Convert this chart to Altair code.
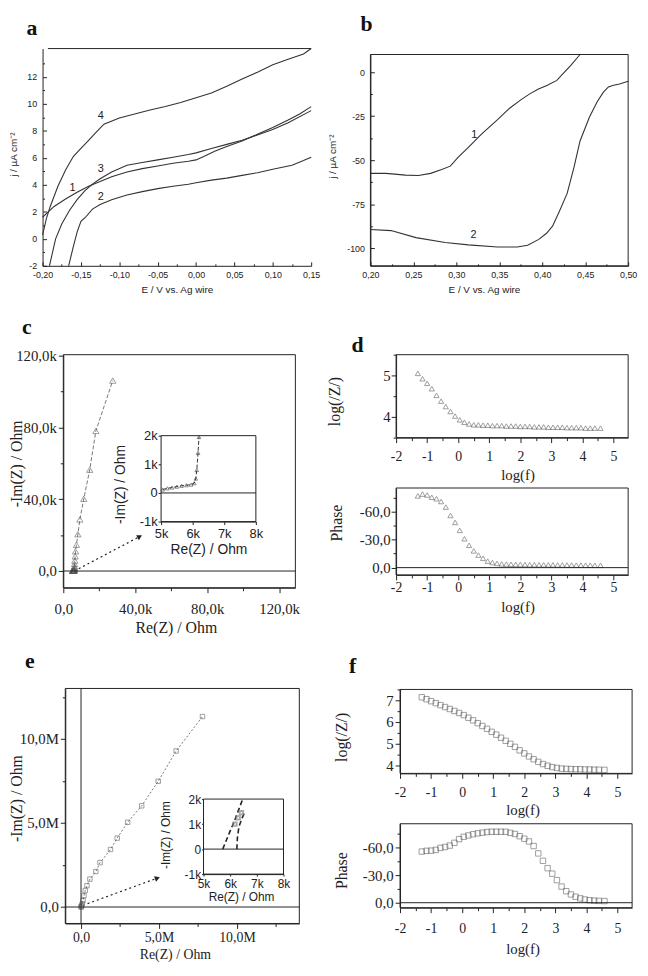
import altair as alt
import pandas as pd

W, H = 640, 960
INK = "#222222"
GREY = "#555555"
SANS = "Liberation Sans"
SERIF = "Liberation Serif"

# ---------------- data ----------------
# panel a : j (uA cm-2) vs E (V)
a1_E = [-0.200, -0.185, -0.170, -0.155, -0.140, -0.125, -0.110, -0.090, -0.070, -0.050, -0.030,
        -0.010, 0.000, 0.010, 0.025, 0.040, 0.060, 0.080, 0.100, 0.120, 0.135, 0.150]
a1_j = [1.6, 2.4, 2.95, 3.45, 3.9, 4.25, 4.6, 4.95, 5.2, 5.4, 5.6,
        5.75, 5.85, 6.1, 6.5, 6.85, 7.25, 7.75, 8.25, 8.8, 9.25, 9.8]
a2_E = [-0.166, -0.160, -0.155, -0.150, -0.144, -0.135, -0.125, -0.110, -0.090, -0.070, -0.050,
        -0.030, -0.010, 0.000, 0.020, 0.040, 0.060, 0.080, 0.100, 0.125, 0.140, 0.150]
a2_j = [-2.0, -0.6, 0.5, 1.3, 1.6, 2.2, 2.55, 2.9, 3.25, 3.5, 3.72,
        3.9, 4.05, 4.15, 4.35, 4.5, 4.7, 4.9, 5.15, 5.45, 5.8, 6.05]
a3_E = [-0.191, -0.183, -0.175, -0.165, -0.155, -0.145, -0.135, -0.125, -0.110, -0.090, -0.070,
        -0.050, -0.030, -0.010, 0.000, 0.020, 0.040, 0.060, 0.080, 0.100, 0.120, 0.150]
a3_j = [-2.0, 0.0, 1.1, 2.1, 2.9, 3.55, 4.05, 4.45, 4.95, 5.45, 5.65,
        5.85, 6.05, 6.25, 6.37, 6.7, 7.0, 7.3, 7.7, 8.1, 8.6, 9.5]
a4_E = [-0.200, -0.195, -0.190, -0.180, -0.170, -0.160, -0.150, -0.140, -0.130, -0.120, -0.100, -0.080,
        -0.060, -0.040, -0.020, 0.000, 0.020, 0.040, 0.060, 0.080, 0.100, 0.120, 0.140, 0.150]
a4_j = [0.3, 1.5, 2.4, 3.9, 5.1, 6.1, 6.7, 7.3, 7.9, 8.5, 8.95, 9.25,
        9.55, 9.8, 10.1, 10.45, 10.8, 11.3, 11.85, 12.35, 12.9, 13.3, 13.7, 14.1]
a_lab = ["4", "3", "1", "2"]
a_lab_E = [-0.124, -0.124, -0.161, -0.124]
a_lab_j = [9.1, 5.2, 3.8, 3.07]

# panel b
b1_E = [0.200, 0.218, 0.241, 0.256, 0.270, 0.283, 0.293, 0.302, 0.314, 0.329, 0.348, 0.362,
        0.375, 0.385, 0.395, 0.406, 0.417, 0.425, 0.433, 0.444]
b1_j = [-57.5, -57.5, -58.5, -58.7, -57.5, -55.3, -53.4, -48.4, -42.8, -35.4, -27.0, -20.5,
        -15.8, -12.5, -9.8, -7.5, -4.7, -0.5, 3.7, 10.0]
b2_E = [0.200, 0.224, 0.253, 0.287, 0.314, 0.348, 0.371, 0.383, 0.396, 0.405, 0.412, 0.420,
        0.429, 0.437, 0.444, 0.455, 0.464, 0.471, 0.477, 0.483, 0.490, 0.500]
b2_j = [-89.4, -90.0, -94.0, -96.8, -98.1, -99.3, -99.3, -98.3, -95.0, -91.5, -87.5, -79.0,
        -68.9, -54.0, -39.1, -25.5, -16.8, -11.5, -8.4, -7.5, -6.8, -5.2]
b_lab = ["1", "2"]
b_lab_E = [0.321, 0.320]
b_lab_j = [-36.0, -92.6]

# panel c (Nyquist, Ohm)
c_re = [5050, 5200, 5350, 5500, 5650, 5800, 5950, 6050, 6100, 6130, 6170, 6200, 6220, 6250,
        6400, 6600, 6800, 7300, 8100, 9200, 11400, 14700, 18100, 27500]
c_im = [120, 160, 190, 220, 250, 270, 290, 340, 500, 800, 1400, 1950, 2600, 4000,
        5800, 8200, 11000, 14600, 20500, 28700, 40200, 56400, 78000, 106000]
c_arrow_re = [8600, 42500]
c_arrow_im = [1300, 19200]

# panel d / f (Bode)
logf = [-1.30, -1.15, -1.00, -0.85, -0.70, -0.55, -0.40, -0.25, -0.10, 0.05,
        0.20, 0.35, 0.50, 0.65, 0.80, 0.95, 1.10, 1.25, 1.40, 1.55,
        1.70, 1.85, 2.00, 2.15, 2.30, 2.45, 2.60, 2.75, 2.90, 3.05,
        3.20, 3.35, 3.50, 3.65, 3.80, 3.95, 4.10, 4.25, 4.40, 4.58]
d_logz = [5.05, 4.92, 4.81, 4.68, 4.52, 4.38, 4.25, 4.13, 4.02, 3.93,
          3.87, 3.83, 3.81, 3.81, 3.80, 3.80, 3.79, 3.79, 3.79, 3.78,
          3.78, 3.78, 3.77, 3.77, 3.77, 3.76, 3.76, 3.76, 3.75, 3.75,
          3.75, 3.75, 3.74, 3.74, 3.74, 3.74, 3.73, 3.73, 3.73, 3.73]
d_phase = [-77, -79, -78, -75.5, -74, -71, -65, -56, -48.5, -40,
           -31, -24, -18, -13.5, -10, -7, -5.5, -4.5, -4, -3.8,
           -3.6, -3.5, -3.4, -3.3, -3.2, -3.2, -3.1, -3.1, -3.0, -3.0,
           -2.9, -2.9, -2.8, -2.8, -2.7, -2.7, -2.6, -2.6, -2.5, -2.5]
f_logz = [7.14, 7.05, 6.96, 6.87, 6.78, 6.69, 6.60, 6.51, 6.42, 6.32,
          6.20, 6.08, 5.95, 5.82, 5.69, 5.55, 5.42, 5.28, 5.14, 5.00,
          4.86, 4.70, 4.56, 4.42, 4.29, 4.17, 4.07, 3.99, 3.93, 3.89,
          3.86, 3.85, 3.84, 3.83, 3.83, 3.82, 3.82, 3.81, 3.81, 3.80]
f_phase = [-55.5, -56.3, -56.5, -57.3, -59.5, -60.5, -62, -65, -69, -71.5,
           -73, -74.3, -75.3, -76, -76.7, -77, -77, -77, -77, -75.8,
           -74.6, -72.2, -69.5, -66.5, -61.5, -53.5, -45.5, -37.5, -31.5, -24.5,
           -17.5, -12.5, -9, -6.5, -4.7, -3.5, -2.7, -2.2, -2.0, -1.8]

# panel e (Nyquist, Ohm)
e_re = [0, 20000, 40000, 80000, 130000, 190000, 270000, 380000, 570000, 950000,
        1220000, 1890000, 2320000, 2990000, 3890000, 4950000, 6100000, 7790000]
e_im = [0, 30000, 80000, 200000, 390000, 680000, 980000, 1270000, 1660000, 2110000,
        2640000, 3420000, 4100000, 5040000, 6020000, 7480000, 9280000, 11330000]
e_arrow_re = [420000, 4900000]
e_arrow_im = [200000, 1720000]
ei_a_re = [5720, 5950, 6150, 6470]
ei_a_im = [0, 600, 1100, 2000]
ei_b_re = [6250, 6270, 6330, 6450, 6560]
ei_b_im = [0, 450, 900, 1250, 1500]
ei_pt_re = [6180, 6300, 6420]
ei_pt_im = [1000, 1250, 1450]

# ---------------- geometry (pixel placement of each plot area) ----------------
PA = dict(xd=[-0.20, 0.15], yd=[-2, 14.1], xr=[35, 307], yr=[255, 35])
PB = dict(xd=[0.20, 0.50], yd=[-110, 10], xr=[367, 628], yr=[255, 41])
PC = dict(xd=[0, 129000], yd=[-9300, 120400], xr=[56, 291], yr=[581, 345])
PCI = dict(xd=[5000, 8000], yd=[-1000, 2000], xr=[155, 251], yr=[514, 427])
PD1 = dict(xd=[-2, 5.47], yd=[3.5, 5.5], xr=[393, 628], yr=[429, 345])
PD2 = dict(xd=[-2, 5.47], yd=[-85.5, 7.8], xr=[393, 628], yr=[480, 568])
PE = dict(xd=[-1010000, 14000000], yd=[-980000, 13000000], xr=[58, 295], yr=[921, 683])
PEI = dict(xd=[5000, 8000], yd=[-1000, 2000], xr=[198, 279], yr=[871, 795])
PF1 = dict(xd=[-2, 5.47], yd=[3.64, 7.5], xr=[397, 632], yr=[769, 684])
PF2 = dict(xd=[-2, 5.47], yd=[-85.7, 5.4], xr=[397, 632], yr=[820, 905])

MINUS = "\u2212"
COMMA2 = "replace(replace(format(datum.value, '.2f'), '.', ','), '" + MINUS + "', '-')"
INT = "replace(format(datum.value, 'd'), '" + MINUS + "', '-')"
K1 = "datum.value == 0 ? '0,0' : replace(format(datum.value / 1000, '.1f'), '.', ',') + 'k'"
KINT = "datum.value == 0 ? '0' : replace(format(datum.value / 1000, 'd'), '" + MINUS + "', '-') + 'k'"
PH = "replace(replace(format(datum.value, '.1f'), '.', ','), '" + MINUS + "', '-')"
M1 = "datum.value == 0 ? '0,0' : replace(format(datum.value / 1000000, '.1f'), '.', ',') + 'M'"

ONE = alt.InlineData(values=[{}])


def xs(P):
    return alt.Scale(domain=P["xd"], range=P["xr"], nice=False, zero=False)


def ys(P):
    return alt.Scale(domain=P["yd"], range=P["yr"], nice=False, zero=False)


def axis(orient, pos, values, expr=None, title=None, font=SERIF, lsize=15, tsize=16,
         tick=5, pad=2, labels=True, domain=True, tx=None, ty=None, tfont=None, ticks=True):
    if orient in ("left", "top"):
        off = -pos
    elif orient == "bottom":
        off = pos - H
    else:
        off = pos - W
    kw = dict(orient=orient, offset=off, values=values, grid=False, domain=domain,
              domainColor=INK, domainWidth=1, ticks=ticks, tickColor=INK, tickWidth=1,
              tickSize=tick, labels=labels, labelColor=INK, labelFont=font, labelFontSize=lsize,
              labelPadding=pad, labelOverlap=False, labelFlush=False,
              titleColor=INK, titleFont=tfont or font, titleFontSize=tsize,
              titleFontWeight="normal", title=title)
    if expr:
        kw["labelExpr"] = expr
    if tx is not None:
        kw["titleX"] = tx
    if ty is not None:
        kw["titleY"] = ty
    if tx is not None or ty is not None:
        kw["titleBaseline"] = "middle"
        kw["titleAlign"] = "center"
    return alt.Axis(**kw)


def tick_axis(orient, pos, values, size):
    return axis(orient, pos, values, tick=size, labels=False, domain=False)


def frame(P, ax_x=None, ax_y=None, fill=False):
    m = alt.Chart(ONE).mark_rect(fill="white", fillOpacity=1 if fill else 0,
                                 stroke=INK, strokeWidth=1)
    return m.encode(x=alt.XDatum(P["xd"][0], axis=ax_x, scale=xs(P)), x2=alt.X2Datum(P["xd"][1]),
                    y=alt.YDatum(P["yd"][0], axis=ax_y, scale=ys(P)), y2=alt.Y2Datum(P["yd"][1]))


def hline(P, yv):
    return alt.Chart(ONE).mark_rule(color=INK, strokeWidth=1).encode(
        x=alt.XDatum(P["xd"][0], axis=None, scale=xs(P)), x2=alt.X2Datum(P["xd"][1]),
        y=alt.YDatum(yv, axis=None, scale=ys(P)))


def vline(P, xv):
    return alt.Chart(ONE).mark_rule(color=INK, strokeWidth=1).encode(
        x=alt.XDatum(xv, axis=None, scale=xs(P)),
        y=alt.YDatum(P["yd"][0], axis=None, scale=ys(P)), y2=alt.Y2Datum(P["yd"][1]))


def letter(P, ch, xv, yv):
    return alt.Chart(ONE).mark_text(text=ch, font=SERIF, fontWeight="bold", fontSize=22,
                                    color="#111111").encode(
        x=alt.XDatum(xv, axis=None, scale=xs(P)), y=alt.YDatum(yv, axis=None, scale=ys(P)))


def enc(P, xf, yf, ax_x=None, ax_y=None):
    return dict(x=alt.X(xf, axis=ax_x, scale=xs(P)), y=alt.Y(yf, axis=ax_y, scale=ys(P)))


def lay(*charts):
    return alt.layer(*charts).resolve_axis(x="independent", y="independent")


# ---------------- panel a ----------------
a_df = pd.DataFrame({
    "E": a1_E + a2_E + a3_E + a4_E,
    "j": a1_j + a2_j + a3_j + a4_j,
    "curve": ["1"] * len(a1_E) + ["2"] * len(a2_E) + ["3"] * len(a3_E) + ["4"] * len(a4_E),
})
a_lab_df = pd.DataFrame({"E": a_lab_E, "j": a_lab_j, "t": a_lab})
JT = "j / \u00b5A cm\u207b\u00b2"
ET = "E / V vs. Ag wire"

pa = lay(
    alt.Chart(a_df).mark_line(color="#333333", strokeWidth=1.1).encode(
        **enc(PA, "E:Q", "j:Q",
              axis("bottom", 255, [-0.20, -0.15, -0.10, -0.05, 0.0, 0.05, 0.10, 0.15], COMMA2, ET,
                   SANS, 9, 10, 0, 5, tx=171, ty=24, ticks=False),
              axis("left", 35, [-2, 0, 2, 4, 6, 8, 10, 12], INT, JT, SANS, 9, 10, 0, 6,
                   tx=-29, ty=142, ticks=False)),
        detail="curve:N"),
    alt.Chart(ONE).mark_rule(color=INK, strokeWidth=1).encode(
        x=alt.XDatum(-0.193, scale=xs(PA),
                     axis=tick_axis("top", 255, [-0.20, -0.15, -0.10, -0.05, 0.0, 0.05, 0.10, 0.15], 4)),
        x2=alt.X2Datum(0.15),
        y=alt.YDatum(14.1, scale=ys(PA),
                     axis=tick_axis("right", 35, [-2, 0, 2, 4, 6, 8, 10, 12], 4))),
    alt.Chart(a_lab_df).mark_text(font=SANS, fontSize=11, color=INK).encode(
        x=alt.X("E:Q", scale=xs(PA),
                axis=tick_axis("top", 255, [-0.175, -0.125, -0.075, -0.025, 0.025, 0.075, 0.125], 2)),
        y=alt.Y("j:Q", scale=ys(PA),
                axis=tick_axis("right", 35, [-1, 1, 3, 5, 7, 9, 11, 13], 2)),
        text="t:N"),
    letter(PA, "a", -0.214, 15.64),
)

# ---------------- panel b ----------------
b_df = pd.DataFrame({
    "E": b1_E + b2_E,
    "j": b1_j + b2_j,
    "curve": ["1"] * len(b1_E) + ["2"] * len(b2_E),
})
b_lab_df = pd.DataFrame({"E": b_lab_E, "j": b_lab_j, "t": b_lab})
BX = [0.20, 0.25, 0.30, 0.35, 0.40, 0.45, 0.50]
BY = [-100, -75, -50, -25, 0]
pb = lay(
    alt.Chart(b_df).mark_line(color="#333333", strokeWidth=1.1).encode(
        **enc(PB, "E:Q", "j:Q",
              axis("bottom", 255, BX, COMMA2, ET, SANS, 9, 10, 0, 5, tx=482, ty=24, ticks=False),
              axis("left", 367, BY, INT, JT, SANS, 9, 10, 0, 6, tx=-38, ty=144, ticks=False)),
        detail="curve:N"),
    frame(PB, tick_axis("top", 255, BX, 4), tick_axis("right", 367, BY, 4)),
    alt.Chart(b_lab_df).mark_text(font=SANS, fontSize=11, color=INK).encode(
        x=alt.X("E:Q", scale=xs(PB),
                axis=tick_axis("top", 255, [0.225, 0.275, 0.325, 0.375, 0.425, 0.475], 2)),
        y=alt.Y("j:Q", scale=ys(PB),
                axis=tick_axis("right", 367, [-87.5, -62.5, -37.5, -12.5], 2)),
        text="t:N"),
    letter(PB, "b", 0.1954, 27.4),
)

# ---------------- panel c ----------------
c_df = pd.DataFrame({"re": c_re, "im": c_im, "i": list(range(len(c_re)))})
c_ar = pd.DataFrame({"re": c_arrow_re, "im": c_arrow_im})
RE = "Re(Z) / Ohm"
IM = "-Im(Z) / Ohm"
pc = lay(
    alt.Chart(c_df).mark_line(color=GREY, strokeWidth=0.8, strokeDash=[4, 2]).encode(
        **enc(PC, "re:Q", "im:Q",
              axis("bottom", 581, [0, 40000, 80000, 120000], K1, RE, pad=9, tx=170, ty=40),
              axis("left", 56, [0, 40000, 80000, 120000], K1, IM, pad=2, tx=-47, ty=455)),
        order="i:Q"),
    alt.Chart(c_df).mark_point(shape="triangle-up", size=40, color=GREY, strokeWidth=0.8).encode(
        **enc(PC, "re:Q", "im:Q")),
    frame(PC,
          tick_axis("bottom", 581, [20000, 60000, 100000], 3),
          tick_axis("left", 56, [20000, 60000, 100000], 3)),
    hline(PC, 0),
    alt.Chart(c_ar).mark_line(color=INK, strokeWidth=1.2, strokeDash=[2, 3]).encode(
        **enc(PC, "re:Q", "im:Q")),
    alt.Chart(c_ar.iloc[[1]]).mark_point(shape="triangle-right", filled=True, size=35,
                                         angle=332, color=INK, opacity=1).encode(
        **enc(PC, "re:Q", "im:Q")),
    letter(PC, "c", -20310, 135790),
)

ci_df = c_df[(c_df["im"] <= 2000)]
pci = lay(
    frame(PCI, fill=True),
    hline(PCI, 0),
    alt.Chart(ci_df).mark_line(color="#333333", strokeWidth=1, strokeDash=[4, 2]).encode(
        **enc(PCI, "re:Q", "im:Q",
              axis("bottom", 514, [5000, 6000, 7000, 8000], KINT, RE, SANS, 13, 14, 3, 3,
                   tx=203, ty=28),
              axis("left", 155, [-1000, 0, 1000, 2000], KINT, IM, SANS, 13, 14, 3, 1,
                   tx=-41, ty=476)),
        order="i:Q"),
    alt.Chart(ci_df).mark_point(shape="triangle-up", size=14, color="#333333",
                                strokeWidth=0.8).encode(**enc(PCI, "re:Q", "im:Q")),
)

# ---------------- panel d ----------------
d_df = pd.DataFrame({"lf": logf, "z": d_logz, "ph": d_phase})
LF = "log(f)"
LZ = "log(/Z/)"
XMAJ = [-2, -1, 0, 1, 2, 3, 4, 5]
XMIN = [-1.5, -0.5, 0.5, 1.5, 2.5, 3.5, 4.5]
pd1 = lay(
    alt.Chart(d_df).mark_point(shape="triangle-up", size=28, color=GREY, strokeWidth=0.8).encode(
        **enc(PD1, "lf:Q", "z:Q",
              axis("bottom", 429, XMAJ, INT, LF, lsize=14, tsize=15, pad=7, tx=516, ty=37),
              axis("left", 393, [4, 5], INT, LZ, pad=1, tx=-62, ty=392))),
    frame(PD1, tick_axis("bottom", 429, XMIN, 3), tick_axis("left", 393, [3.5, 4.5, 5.5], 3)),
    letter(PD1, "d", -3.24, 5.74),
)
pd2 = lay(
    alt.Chart(d_df).mark_point(shape="triangle-up", size=28, color=GREY, strokeWidth=0.8).encode(
        **enc(PD2, "lf:Q", "ph:Q",
              axis("bottom", 568, XMAJ, INT, LF, lsize=14, tsize=15, pad=1, tx=516, ty=32),
              axis("left", 393, [-60, -30, 0], PH, "Phase", pad=1, tx=-60, ty=515))),
    frame(PD2, tick_axis("bottom", 568, XMIN, 3), tick_axis("left", 393, [-75, -45, -15], 3)),
    hline(PD2, 0),
)

# ---------------- panel e ----------------
e_df = pd.DataFrame({"re": e_re, "im": e_im, "i": list(range(len(e_re)))})
e_ar = pd.DataFrame({"re": e_arrow_re, "im": e_arrow_im})
pe = lay(
    alt.Chart(e_df).mark_line(color=GREY, strokeWidth=0.8, strokeDash=[2, 2]).encode(
        **enc(PE, "re:Q", "im:Q",
              axis("bottom", 921, [0, 5000000, 10000000], M1, RE, lsize=14, tsize=14, pad=2,
                   tx=169, ty=31),
              axis("left", 58, [0, 5000000, 10000000], M1, IM, pad=2, tx=-49, ty=794)),
        order="i:Q"),
    alt.Chart(e_df).mark_square(size=20, color=GREY, filled=False, strokeWidth=0.8).encode(
        **enc(PE, "re:Q", "im:Q")),
    frame(PE,
          tick_axis("bottom", 921, [2500000, 7500000, 12500000], 3),
          tick_axis("left", 58, [2500000, 7500000, 12500000], 3)),
    hline(PE, 0),
    vline(PE, 0),
    alt.Chart(e_ar).mark_line(color=INK, strokeWidth=1.2, strokeDash=[2, 3]).encode(
        **enc(PE, "re:Q", "im:Q")),
    alt.Chart(e_ar.iloc[[1]]).mark_point(shape="triangle-right", filled=True, size=35,
                                         angle=340, color=INK, opacity=1).encode(
        **enc(PE, "re:Q", "im:Q")),
    letter(PE, "e", -3290000, 14640000),
)

ei_df = pd.DataFrame({
    "re": ei_a_re + ei_b_re,
    "im": ei_a_im + ei_b_im,
    "s": ["a"] * len(ei_a_re) + ["b"] * len(ei_b_re),
})
ei_pt = pd.DataFrame({"re": ei_pt_re, "im": ei_pt_im})
pei = lay(
    frame(PEI, fill=True),
    hline(PEI, 0),
    alt.Chart(ei_df).mark_line(color=INK, strokeWidth=1.6, strokeDash=[5, 3]).encode(
        **enc(PEI, "re:Q", "im:Q",
              axis("bottom", 871, [5000, 6000, 7000, 8000], KINT, RE, SANS, 12, 12, 2, 3,
                   tx=236, ty=23),
              axis("left", 198, [-1000, 0, 1000, 2000], KINT, IM, SANS, 12, 12, 2, 1,
                   tx=-38, ty=831)),
        detail="s:N"),
    alt.Chart(ei_pt).mark_square(size=12, color="#888888", filled=False).encode(
        **enc(PEI, "re:Q", "im:Q")),
)

# ---------------- panel f ----------------
f_df = pd.DataFrame({"lf": logf, "z": f_logz, "ph": f_phase})
pf1 = lay(
    alt.Chart(f_df).mark_square(size=30, color=GREY, filled=False, strokeWidth=0.8).encode(
        **enc(PF1, "lf:Q", "z:Q",
              axis("bottom", 769, XMAJ, INT, LF, lsize=14, tsize=15, pad=7, tx=521, ty=37),
              axis("left", 397, [4, 5, 6, 7], INT, LZ, pad=2, tx=-59, ty=732))),
    frame(PF1, tick_axis("bottom", 769, XMIN, 3),
          tick_axis("left", 397, [4.5, 5.5, 6.5, 7.5], 3)),
    letter(PF1, "f", -3.53, 8.59),
)
pf2 = lay(
    alt.Chart(f_df).mark_square(size=30, color=GREY, filled=False, strokeWidth=0.8).encode(
        **enc(PF2, "lf:Q", "ph:Q",
              axis("bottom", 905, XMAJ, INT, LF, lsize=14, tsize=15, pad=9, tx=521, ty=41),
              axis("left", 397, [-60, -30, 0], PH, "Phase", pad=2, tx=-59, ty=867))),
    frame(PF2, tick_axis("bottom", 905, XMIN, 3), tick_axis("left", 397, [-75, -45, -15], 3)),
    hline(PF2, 0),
)

chart = (
    alt.layer(pa, pb, pc, pci, pd1, pd2, pe, pei, pf1, pf2)
    .resolve_scale(x="independent", y="independent")
    .resolve_axis(x="independent", y="independent")
    .properties(width=W, height=H, padding=0, background="white",
                autosize=alt.AutoSizeParams(type="none"))
    .configure_view(stroke=None)
)

chart.save("out.html", embed_options={"renderer": "svg", "actions": False})
